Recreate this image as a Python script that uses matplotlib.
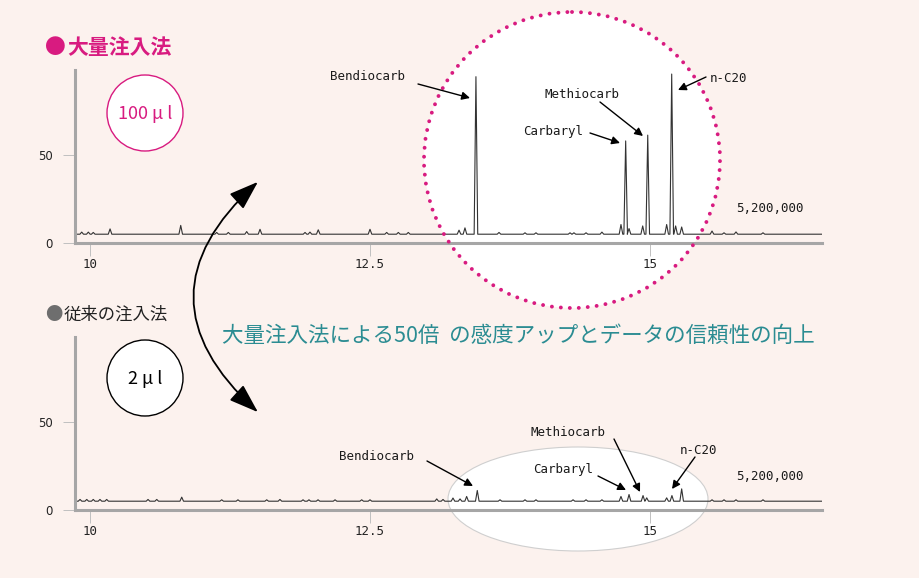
import matplotlib.pyplot as plt
from matplotlib.patches import Circle, Ellipse, FancyArrowPatch

# ---- data ----
# retention time (min) and peak height above baseline (scale: 5,200,000 counts = 100)
top_rt = [9.926, 9.985, 10.029, 10.179, 10.810, 11.131, 11.235, 11.399, 11.518,
          11.920, 11.964, 12.038, 12.500, 12.649, 12.753, 12.842, 13.295, 13.348,
          13.446, 13.652, 13.884, 13.982, 14.286, 14.321, 14.429, 14.571, 14.741,
          14.783, 14.813, 14.935, 14.980, 15.149, 15.194, 15.229, 15.283, 15.554,
          15.661, 15.768, 16.009]
top_height = [1.2, 1.2, 1.0, 3.0, 5.0, 1.0, 1.0, 1.5, 2.8,
              1.0, 1.2, 2.5, 2.8, 1.0, 1.0, 1.0, 2.3, 3.6,
              89.5, 1.0, 0.8, 0.8, 0.8, 0.8, 0.8, 1.2, 5.5,
              53.0, 3.2, 4.7, 56.3, 5.5, 91.0, 4.7, 4.1, 1.8,
              0.8, 1.3, 0.8]

bot_rt = [9.911, 9.971, 10.029, 10.089, 10.149, 10.518, 10.596, 10.819, 11.176,
          11.321, 11.578, 11.696, 11.902, 11.955, 12.036, 12.188, 12.426, 12.500,
          13.096, 13.152, 13.241, 13.304, 13.363, 13.458, 13.661, 13.884, 13.982,
          14.313, 14.429, 14.571, 14.741, 14.813, 14.938, 14.971, 15.149, 15.196,
          15.283, 15.554, 15.661, 15.768, 16.009]
bot_height = [1.0, 1.0, 1.0, 1.0, 1.0, 1.0, 1.0, 2.3, 0.8,
              0.8, 0.8, 1.0, 0.8, 0.8, 0.8, 0.8, 0.8, 0.8,
              1.3, 1.0, 1.8, 1.3, 2.7, 6.1, 0.8, 0.8, 0.8,
              0.8, 0.8, 0.8, 2.7, 3.8, 3.2, 1.9, 1.9, 3.2,
              7.0, 0.8, 0.8, 0.8, 0.8]

baseline = 5
xticks = [10, 12.5, 15]
xtick_labels = ['10', '12.5', '15']
yticks = [0, 50]
ytick_labels = ['0', '50']
scale_label = '5,200,000'
compounds = ['Bendiocarb', 'Carbaryl', 'Methiocarb', 'n-C20']

# ---- styling ----
W, H = 920, 578
BG = '#fcf2ee'
MAG = '#d81b80'
TEAL = '#2b8c92'
SPINE = '#a6a6a6'
CJK = ['Noto Sans CJK JP', 'DejaVu Sans']
MONO = 'DejaVu Sans Mono'


def trace(rt, height, base, hw=0.016):
    x, y = [9.8], [base]
    for t, h in zip(rt, height):
        x += [t - hw, t, t + hw]
        y += [base, base + h, base]
    x.append(16.6)
    y.append(base)
    return x, y


fig = plt.figure(figsize=(W / 100, H / 100), dpi=100, facecolor=BG)

# background overlay in pixel coordinates
bg = fig.add_axes([0, 0, 1, 1])
bg.set_xlim(0, W)
bg.set_ylim(H, 0)
bg.axis('off')
bg.set_zorder(0)

# foreground overlay for labels / arrows
fg = fig.add_axes([0, 0, 1, 1])
fg.set_xlim(0, W)
fg.set_ylim(H, 0)
fg.axis('off')
fg.set_zorder(3)
fg.patch.set_alpha(0)


def chart(top_px, rt, height):
    ax = fig.add_axes([75 / W, (H - top_px - 173) / H, 747 / W, 173 / H])
    ax.set_zorder(2)
    ax.patch.set_alpha(0)
    x, y = trace(rt, height, baseline)
    ax.plot(x, y, color='#333333', lw=0.8)
    ax.set_xlim(9.866, 16.536)
    ax.set_ylim(0, 98.3)
    for s in ['top', 'right']:
        ax.spines[s].set_visible(False)
    for s in ['left', 'bottom']:
        ax.spines[s].set_color(SPINE)
        ax.spines[s].set_linewidth(2.2)
    ax.set_xticks(xticks, xtick_labels, fontfamily=MONO)
    ax.set_yticks(yticks, ytick_labels)
    ax.tick_params(axis='x', length=9, width=0.7, color='#c0c0c0', pad=2,
                   labelsize=9, labelcolor='#222222')
    ax.tick_params(axis='y', length=9, width=0.7, color='#c0c0c0', pad=7,
                   labelsize=8.5, labelcolor='#222222')
    return ax


ax1 = chart(70, top_rt, top_height)
ax2 = chart(337, bot_rt, bot_height)

# highlight shapes
bg.add_patch(Circle((572, 160), 148, fc='white', ec='none'))
fg.add_patch(Circle((572, 160), 148, fill=False, ec=MAG, lw=2.8,
                    linestyle=(0, (0.01, 2.3)), capstyle='round'))
bg.add_patch(Ellipse((578, 499), 260, 104, fc='white', ec='#cfcfcf', lw=0.8))

# volume circles
bg.add_patch(Circle((145, 113), 38, fc='white', ec=MAG, lw=1.0))
bg.text(145, 114, '100 μ l', ha='center', va='center', fontsize=13,
        color=MAG, family=CJK)
bg.add_patch(Circle((145, 378), 38, fc='white', ec='black', lw=1.0))
bg.text(145, 379, '2 μ l', ha='center', va='center', fontsize=13,
        color='black', family=CJK)

# section titles
fg.text(45, 48, '●', ha='left', va='center', fontsize=15, color=MAG, family=CJK)
fg.text(67, 48, '大量注入法', ha='left', va='center', fontsize=15,
        color=MAG, family=CJK, fontweight='bold')
fg.text(45, 315, '●', ha='left', va='center', fontsize=12.5, color='#6e6e6e', family=CJK)
fg.text(64, 315, '従来の注入法', ha='left', va='center', fontsize=12.5,
        color='#222222', family=CJK)

fg.text(222, 336, '大量注入法による50倍  の感度アップとデータの信頼性の向上',
        ha='left', va='center', fontsize=15.5, color=TEAL, family=CJK)

# curved double arrow
fg.add_patch(FancyArrowPatch((260, 180), (260, 414),
                             connectionstyle='arc3,rad=0.56',
                             arrowstyle='<|-|>,head_length=1.3,head_width=0.45',
                             mutation_scale=14, lw=1.3, color='black'))

# compound labels: (text centre, arrow tail, arrow head) in pixels
top_labels = {
    'Bendiocarb': ((368, 77), (418, 84), (470, 98)),
    'Methiocarb': ((582, 94), (600, 102), (643, 136)),
    'Carbaryl': ((553, 132), (590, 133), (620, 143)),
    'n-C20': ((729, 78), (706, 77), (678, 90)),
}
bot_labels = {
    'Bendiocarb': ((377, 456), (427, 461), (473, 486)),
    'Methiocarb': ((568, 433), (614, 439), (640, 492)),
    'Carbaryl': ((563, 470), (598, 476), (626, 490)),
    'n-C20': ((699, 450), (695, 457), (672, 489)),
}
for labels in [top_labels, bot_labels]:
    for name in compounds:
        txt, tail, head = labels[name]
        fg.text(txt[0], txt[1], name, ha='center', va='center', fontsize=9,
                family=MONO, color='#1a1a1a')
        fg.annotate('', xy=head, xytext=tail,
                    arrowprops=dict(arrowstyle='-|>', color='black', lw=1.0,
                                    mutation_scale=12, shrinkA=0, shrinkB=0))

fg.text(770, 208, scale_label, ha='center', va='center', fontsize=9,
        family=MONO, color='#1a1a1a')
fg.text(770, 476, scale_label, ha='center', va='center', fontsize=9,
        family=MONO, color='#1a1a1a')

fig.savefig('out.png', dpi=100, facecolor=BG)
